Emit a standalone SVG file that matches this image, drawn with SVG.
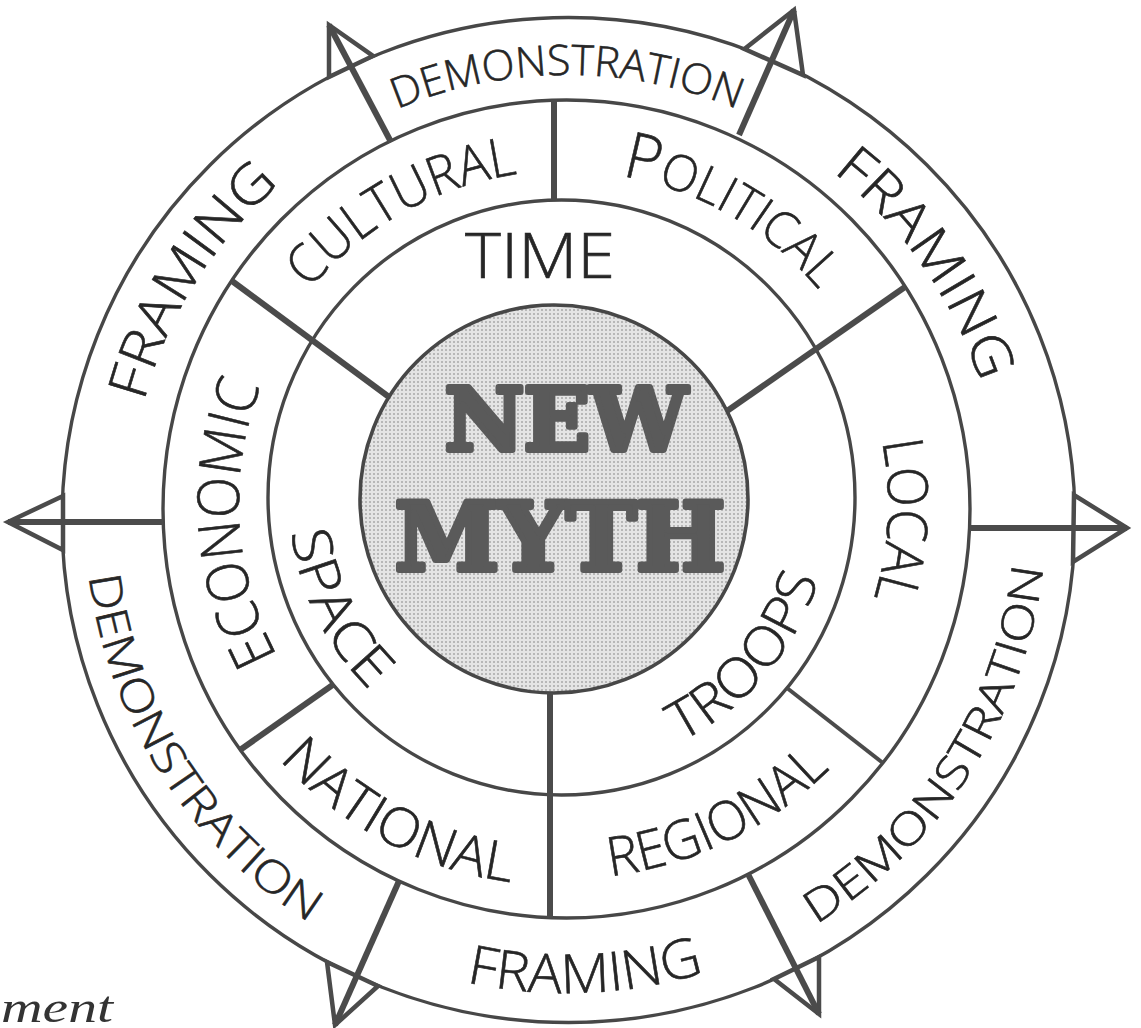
<svg xmlns="http://www.w3.org/2000/svg" width="1141" height="1028" viewBox="0 0 1141 1028">
<defs>
<style>
.ring{fill:none;stroke:#474747;stroke-width:3.4}
.spoke{stroke:#4b4b4b;stroke-width:6;stroke-linecap:butt;fill:none}
.spoke-thin{stroke:#4b4b4b;stroke-width:4;fill:none}
.head{fill:#fff;stroke:#4b4b4b;stroke-width:4.5;stroke-linejoin:miter}
.hand{font-family:'Open Sans','DejaVu Sans',sans-serif;font-weight:300;fill:#262626;stroke:#262626;stroke-width:0.6}
.myth{font-family:'DejaVu Serif','Liberation Serif',serif;font-weight:bold;fill:#5a5a5a;stroke:#5a5a5a;stroke-width:6;stroke-linejoin:round}
.script{font-family:'Liberation Serif','DejaVu Serif',serif;font-style:italic;fill:#333}
</style>
<pattern id="dots" width="4" height="4" patternUnits="userSpaceOnUse">
<rect width="4" height="4" fill="#e4e4e4"/>
<circle cx="2" cy="2" r="1" fill="#a8a8a8"/>
</pattern>
<path id="p-demo-top" d="M381.05,116.22 A440,440 0 0 1 752.95,116.22"/>
<path id="p-fram-ur" d="M784,139.14 A434,434 0 0 1 994.41,439.64"/>
<path id="p-fram-ul" d="M132.26,461.62 A438,438 0 0 1 328.45,147.66"/>
<path id="p-demo-ll" d="M86.49,552.82 A482,482 0 0 0 329.65,934.51"/>
<path id="p-demo-lr" d="M791.88,937.94 A479,479 0 0 0 1045.34,540.07"/>
<path id="p-fram-b" d="M403.51,964.17 A478,478 0 0 0 765.22,949.96"/>
<path id="p-cult" d="M292.05,312.57 A332,332 0 0 1 546.62,171.45"/>
<path id="p-poli" d="M587.16,171.81 A332,332 0 0 1 839.24,317.35"/>
<path id="p-local" d="M875.45,413.69 A324,324 0 0 1 864.41,624.37"/>
<path id="p-econ" d="M294.56,684.74 A325,325 0 0 1 274.42,355.45"/>
<path id="p-regi" d="M570.56,878.94 A376,376 0 0 0 856.21,739.62"/>
<path id="p-nati" d="M258.12,733.5 A383,383 0 0 0 543.95,885.48"/>
<path id="p-space" d="M289.16,507.39 A269,269 0 0 0 388.71,707.05"/>
<path id="p-troops" d="M660.27,751.12 A273,273 0 0 0 824.43,557.55"/>
</defs>
<rect width="1141" height="1028" fill="#ffffff"/>

<g id="rings">
<ellipse class="ring" cx="568.5" cy="520" rx="506.5" ry="502.5"/>
<ellipse class="ring" cx="566.5" cy="509" rx="403.5" ry="409"/>
<ellipse class="ring" cx="561.5" cy="497.5" rx="293.5" ry="297.5"/>
</g>

<g id="core">
<circle cx="554" cy="499" r="194" fill="url(#dots)" stroke="#474747" stroke-width="3.6"/>
<text class="myth" x="566" y="450" font-size="86" text-anchor="middle" textLength="242" lengthAdjust="spacingAndGlyphs">NEW</text>
<text class="myth" x="560" y="570" font-size="94" text-anchor="middle" textLength="330" lengthAdjust="spacingAndGlyphs">MYTH</text>
</g>

<g id="connectors">
<line class="spoke" x1="232" y1="281" x2="389" y2="397"/>
<line class="spoke" x1="905" y1="287" x2="727" y2="411"/>
<line class="spoke" x1="554" y1="100" x2="554" y2="200"/>
<line class="spoke" x1="550" y1="693" x2="550" y2="918"/>
<line class="spoke" x1="240" y1="750" x2="334" y2="684"/>
<line class="spoke-thin" x1="787" y1="688" x2="883" y2="763"/>
<polygon class="head" points="329,25 329,77 373,56"/>
<polygon class="head" points="794,10 744.5,49 803,75"/>
<polygon class="head" points="1127,528 1074,495 1073,562"/>
<polygon class="head" points="8,522 63,496 63,550"/>
<polygon class="head" points="819,1014 774,979 819,957"/>
<polygon class="head" points="335,1025 327,962 378,986"/>
<line class="spoke" x1="329" y1="25" x2="391" y2="142"/>
<line class="spoke" x1="794" y1="10" x2="739" y2="135"/>
<line class="spoke" x1="8" y1="522" x2="163" y2="522"/>
<line class="spoke" x1="970" y1="528" x2="1127" y2="528"/>
<line class="spoke" x1="819" y1="1014" x2="748" y2="874"/>
<line class="spoke" x1="335" y1="1025" x2="399" y2="881"/>
</g>

<g id="outer-demonstration-top"><text class="hand" font-size="42"><textPath href="#p-demo-top" startOffset="50%" text-anchor="middle" textLength="349" lengthAdjust="spacingAndGlyphs">DEMONSTRATION</textPath></text></g>
<g id="outer-framing-upper-right"><text class="hand" font-size="54"><textPath href="#p-fram-ur" startOffset="50%" text-anchor="middle" textLength="261" lengthAdjust="spacingAndGlyphs">FRAMING</textPath></text></g>
<g id="outer-framing-upper-left"><text class="hand" font-size="54"><textPath href="#p-fram-ul" startOffset="50%" text-anchor="middle" textLength="260" lengthAdjust="spacingAndGlyphs">FRAMING</textPath></text></g>
<g id="outer-demonstration-lower-left"><text class="hand" font-size="44"><textPath href="#p-demo-ll" startOffset="50%" text-anchor="middle" textLength="424" lengthAdjust="spacingAndGlyphs">DEMONSTRATION</textPath></text></g>
<g id="outer-demonstration-lower-right"><text class="hand" font-size="44"><textPath href="#p-demo-lr" startOffset="50%" text-anchor="middle" textLength="438" lengthAdjust="spacingAndGlyphs">DEMONSTRATION</textPath></text></g>
<g id="outer-framing-bottom"><text class="hand" font-size="54"><textPath href="#p-fram-b" startOffset="50%" text-anchor="middle" textLength="241" lengthAdjust="spacingAndGlyphs">FRAMING</textPath></text></g>

<g id="mid-cultural"><text class="hand" font-size="54"><textPath href="#p-cult" startOffset="50%" text-anchor="middle" textLength="243" lengthAdjust="spacingAndGlyphs">CULTURAL</textPath></text></g>
<g id="mid-political"><text class="hand" font-size="50"><textPath href="#p-poli" startOffset="50%" text-anchor="middle" textLength="232" lengthAdjust="spacingAndGlyphs"><tspan font-size="64">P</tspan>OLITICAL</textPath></text></g>
<g id="mid-local"><text class="hand" font-size="56"><textPath href="#p-local" startOffset="50%" text-anchor="middle" textLength="158" lengthAdjust="spacingAndGlyphs">LOCAL</textPath></text></g>
<g id="mid-economic"><text class="hand" font-size="58"><textPath href="#p-econ" startOffset="50%" text-anchor="middle" textLength="279" lengthAdjust="spacingAndGlyphs">ECONOMIC</textPath></text></g>
<g id="mid-regional"><text class="hand" font-size="54"><textPath href="#p-regi" startOffset="50%" text-anchor="middle" textLength="249" lengthAdjust="spacingAndGlyphs">REGIONAL</textPath></text></g>
<g id="mid-national"><text class="hand" font-size="54"><textPath href="#p-nati" startOffset="50%" text-anchor="middle" textLength="267" lengthAdjust="spacingAndGlyphs">NATIONAL</textPath></text></g>

<g id="inner-time"><text class="hand" font-size="62" x="540" y="278" text-anchor="middle" textLength="150" lengthAdjust="spacingAndGlyphs">TIME</text></g>
<g id="inner-space"><text class="hand" font-size="54"><textPath href="#p-space" startOffset="50%" text-anchor="middle" textLength="180" lengthAdjust="spacingAndGlyphs">SPACE</textPath></text></g>
<g id="inner-troops"><text class="hand" font-size="54"><textPath href="#p-troops" startOffset="50%" text-anchor="middle" textLength="219" lengthAdjust="spacingAndGlyphs">TROOPS</textPath></text></g>

<g id="caption"><text class="script" x="1" y="1022" font-size="44" textLength="112" lengthAdjust="spacingAndGlyphs">ment</text></g>
</svg>
